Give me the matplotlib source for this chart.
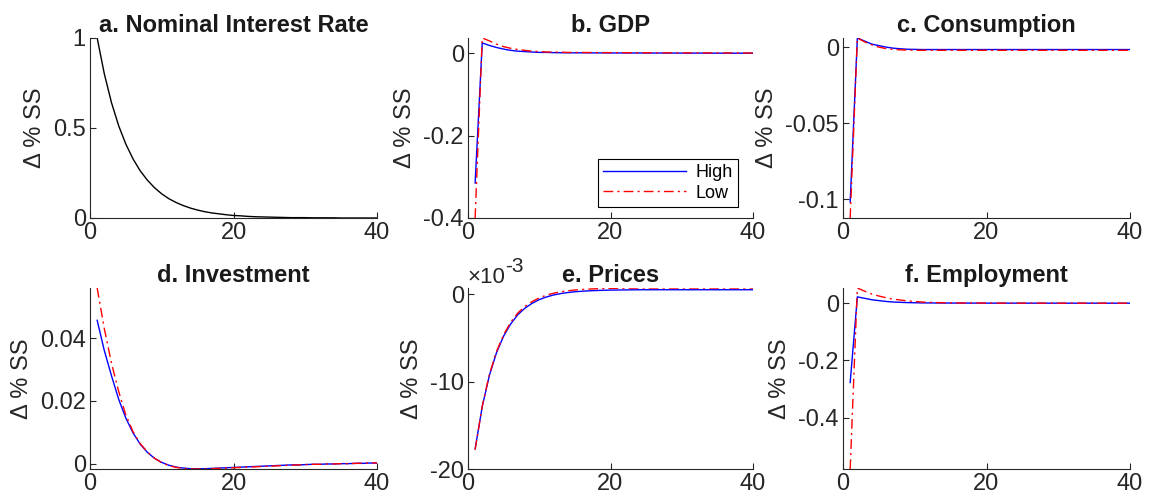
import matplotlib
matplotlib.use("Agg")
import matplotlib.pyplot as plt

plt.rcParams['font.family'] = ['Liberation Sans', 'DejaVu Sans']
plt.rcParams['axes.unicode_minus'] = False

periods = list(range(1, 41))

rate = [1.0, 0.8, 0.64, 0.512, 0.41, 0.328, 0.262, 0.21, 0.168, 0.134,
        0.107, 0.086, 0.069, 0.055, 0.044, 0.035, 0.028, 0.023, 0.018, 0.014,
        0.012, 0.009, 0.007, 0.006, 0.005, 0.004, 0.003, 0.002, 0.002, 0.002,
        0.001, 0.001, 0.001, 0.001, 0.0, 0.0, 0.0, 0.0, 0.0, 0.0]

gdp_high = [-0.315, 0.025, 0.019, 0.014, 0.010, 0.007, 0.005, 0.004, 0.003, 0.002,
            0.002, 0.0015, 0.0012, 0.001, 0.001, 0.001, 0.0009, 0.0008, 0.0008, 0.0007,
            0.0007, 0.0006, 0.0006, 0.0006, 0.0005, 0.0005, 0.0005, 0.0004, 0.0004, 0.0004,
            0.0003, 0.0003, 0.0003, 0.0002, 0.0002, 0.0002, 0.0001, 0.0001, 0.0001, 0.0]
gdp_low = [-0.40, 0.037, 0.030, 0.022, 0.016, 0.012, 0.009, 0.007, 0.005, 0.004,
           0.003, 0.003, 0.0025, 0.002, 0.002, 0.0018, 0.0017, 0.0016, 0.0015, 0.0014,
           0.0013, 0.0013, 0.0012, 0.0012, 0.0011, 0.0011, 0.001, 0.001, 0.001, 0.0009,
           0.0009, 0.0009, 0.0008, 0.0008, 0.0008, 0.0007, 0.0007, 0.0007, 0.0006, 0.0006]

cons_high = [-0.102, 0.006, 0.004, 0.002, 0.001, 0.0, -0.0007, -0.0011, -0.0014, -0.0015,
             -0.0016, -0.0016, -0.0016, -0.0016, -0.0016, -0.0016, -0.0016, -0.0016, -0.0016, -0.0016,
             -0.0016, -0.0016, -0.0016, -0.0016, -0.0016, -0.0016, -0.0016, -0.0016, -0.0016, -0.0016,
             -0.0016, -0.0016, -0.0016, -0.0016, -0.0016, -0.0016, -0.0016, -0.0016, -0.0016, -0.0016]
cons_low = [-0.1125, 0.006, 0.0035, 0.0015, 0.0, -0.001, -0.0015, -0.0018, -0.002, -0.0021,
            -0.0021, -0.0021, -0.0021, -0.0021, -0.0021, -0.0021, -0.0021, -0.0021, -0.0021, -0.0021,
            -0.0021, -0.0021, -0.0021, -0.0021, -0.0021, -0.0021, -0.0021, -0.0021, -0.0021, -0.0021,
            -0.0021, -0.0021, -0.0021, -0.0021, -0.0021, -0.0021, -0.0021, -0.0021, -0.0021, -0.0021]

inv_high = [0.0457, 0.036, 0.028, 0.0205, 0.0145, 0.0098, 0.0062, 0.0036, 0.0017, 0.0004,
            -0.0005, -0.0011, -0.0014, -0.0016, -0.0016, -0.0016, -0.0015, -0.0014, -0.0013, -0.0012,
            -0.0011, -0.0010, -0.0009, -0.0008, -0.0007, -0.0006, -0.0005, -0.0004, -0.0004, -0.0003,
            -0.0002, -0.0002, -0.0001, -0.0001, 0.0, 0.0, 0.0001, 0.0001, 0.0002, 0.0002]
inv_low = [0.056, 0.043, 0.032, 0.023, 0.0155, 0.0102, 0.0064, 0.0037, 0.0017, 0.0003,
           -0.0006, -0.0012, -0.0015, -0.0017, -0.0017, -0.0017, -0.0016, -0.0015, -0.0014, -0.0013,
           -0.0012, -0.0011, -0.0010, -0.0009, -0.0008, -0.0007, -0.0006, -0.0005, -0.0004, -0.0003,
           -0.0002, -0.0002, -0.0001, -0.0001, 0.0, 0.0, 0.0001, 0.0002, 0.0002, 0.0003]

price_high = [-0.0177, -0.01286, -0.0093, -0.0067, -0.0048, -0.0034, -0.00235, -0.0016, -0.00105, -0.00063,
              -0.00033, -0.0001, 0.00006, 0.00018, 0.00027, 0.00033, 0.00038, 0.00041, 0.00044, 0.00046,
              0.00047, 0.00048, 0.00049, 0.0005, 0.0005, 0.0005, 0.0005, 0.0005, 0.0005, 0.0005,
              0.0005, 0.0005, 0.0005, 0.0005, 0.0005, 0.0005, 0.0005, 0.0005, 0.0005, 0.0005]
price_low = [-0.0178, -0.0128, -0.0092, -0.00655, -0.00465, -0.0032, -0.00215, -0.0014, -0.00085, -0.00043,
             -0.00012, 0.0001, 0.00026, 0.00038, 0.00047, 0.00053, 0.00058, 0.00061, 0.00064, 0.00066,
             0.00067, 0.00068, 0.00069, 0.0007, 0.0007, 0.0007, 0.0007, 0.0007, 0.0007, 0.0007,
             0.0007, 0.0007, 0.0007, 0.0007, 0.0007, 0.0007, 0.0007, 0.0007, 0.0007, 0.0007]

emp_high = [-0.277, 0.022, 0.017, 0.012, 0.009, 0.006, 0.004, 0.003, 0.002, 0.0015,
            0.001, 0.0008, 0.0006, 0.0005, 0.0004, 0.0003, 0.0003, 0.0002, 0.0002, 0.0002,
            0.0001, 0.0001, 0.0001, 0.0001, 0.0001, 0.0, 0.0, 0.0, 0.0, 0.0,
            0.0, 0.0, 0.0, 0.0, 0.0, 0.0, 0.0, 0.0, 0.0, 0.0]
emp_low = [-0.579, 0.053, 0.042, 0.032, 0.025, 0.019, 0.014, 0.011, 0.008, 0.006,
           0.004, 0.003, 0.002, 0.0015, 0.001, 0.0008, 0.0006, 0.0005, 0.0004, 0.0003,
           0.0003, 0.0002, 0.0002, 0.0002, 0.0001, 0.0001, 0.0001, 0.0001, 0.0, 0.0,
           0.0, 0.0, 0.0, 0.0, 0.0, 0.0, 0.0, 0.0, 0.0, 0.0]

titles = ["a. Nominal Interest Rate", "b. GDP", "c. Consumption",
          "d. Investment", "e. Prices", "f. Employment"]
ylabel = "\u0394 % SS"
legend_labels = ["High", "Low"]
xticks = [0, 20, 40]
yticks = [[0, 0.5, 1], [-0.4, -0.2, 0], [-0.1, -0.05, 0],
          [0, 0.02, 0.04], [-0.02, -0.01, 0], [-0.4, -0.2, 0]]
ylims = [(0, 1), (-0.4, 0.037), (-0.1125, 0.006),
         (-0.0017, 0.056), (-0.02, 0.0007), (-0.579, 0.053)]
ytick_labels = [["0", "0.5", "1"], ["-0.4", "-0.2", "0"], ["-0.1", "-0.05", "0"],
                ["0", "0.02", "0.04"], ["-20", "-10", "0"], ["-0.4", "-0.2", "0"]]
exp_base = "\u00d710"
exp_power = "-3"

W, H = 1151, 504
fig = plt.figure(figsize=(W / 100, H / 100), dpi=100)

cols = [(90, 377), (468, 753), (843, 1130)]
rows = [(38, 218), (288, 469)]

gray = (0.15, 0.15, 0.15)
series = [
    [(rate, 'k', '-')],
    [(gdp_high, 'b', '-'), (gdp_low, 'r', '-.')],
    [(cons_high, 'b', '-'), (cons_low, 'r', '-.')],
    [(inv_high, 'b', '-'), (inv_low, 'r', '-.')],
    [(price_high, 'b', '-'), (price_low, 'r', '-.')],
    [(emp_high, 'b', '-'), (emp_low, 'r', '-.')],
]

for i in range(6):
    r, c = divmod(i, 3)
    l, rr = cols[c]
    t, b = rows[r]
    ax = fig.add_axes([l / W, 1 - b / H, (rr - l) / W, (b - t) / H])
    lines = []
    for vals, col, ls in series[i]:
        if ls == '-.':
            ln, = ax.plot(periods, vals, color=col, lw=1.0, linestyle=(0, (7, 3, 1.5, 3)))
        else:
            ln, = ax.plot(periods, vals, color=col, lw=1.0, linestyle='-')
        lines.append(ln)
    ax.set_xlim(0, 40)
    ax.set_ylim(*ylims[i])
    ax.set_xticks(xticks)
    ax.set_yticks(yticks[i])
    ax.set_yticklabels(ytick_labels[i])
    ax.spines['top'].set_visible(False)
    ax.spines['right'].set_visible(False)
    for s in ['left', 'bottom']:
        ax.spines[s].set_color(gray)
        ax.spines[s].set_linewidth(0.8)
    ax.tick_params(direction='in', length=4, width=0.8, colors=gray,
                   labelsize=17, labelcolor=gray, pad=3)
    ax.set_title(titles[i], fontsize=17, fontweight='bold', color=(0.1, 0.1, 0.1), pad=4)
    ax.set_ylabel(ylabel, fontsize=17, color=gray, labelpad=5)
    if i == 1:
        leg = ax.legend(lines, legend_labels, loc='lower right',
                        bbox_to_anchor=(0.947, 0.061), borderaxespad=0,
                        fontsize=13, fancybox=False, framealpha=1,
                        edgecolor='k', handlelength=4.6, borderpad=0.3,
                        labelspacing=0.2, handletextpad=0.5)
        leg.get_frame().set_linewidth(0.8)

# exponent label of panel e (placed just above its top-left corner)
fig.text(467 / W, 1 - 283 / H, exp_base, fontsize=16, color=gray, ha='left', va='baseline')
fig.text(505 / W, 1 - 272 / H, exp_power, fontsize=15, color=gray, ha='left', va='baseline')

fig.savefig("out.png", dpi=100)
